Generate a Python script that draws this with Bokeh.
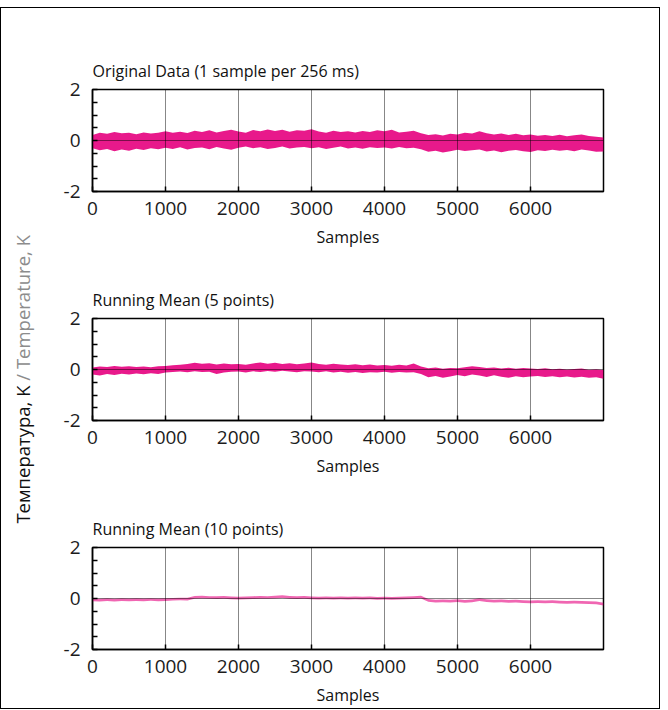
import math
from bokeh.plotting import figure
from bokeh.layouts import column, row
from bokeh.models import FixedTicker, Range1d
from bokeh.core.properties import value
from bokeh.embed import file_html
from bokeh.resources import INLINE

# ---------------- data ----------------
samples = list(range(0, 7001, 100))

titles = ["Original Data (1 sample per 256 ms)",
          "Running Mean (5 points)",
          "Running Mean (10 points)"]
x_label = "Samples"
y_label_ru = "Температура, K"
y_label_en = "\u00a0/ Temperature, K"

x_ticks = [0, 1000, 2000, 3000, 4000, 5000, 6000]
y_ticks = [-2, 0, 2]
y_tick_labels = {-2: "-2", 0: "0", 2: "2"}
y_minor = [-1.5, -1, -0.5, 0.5, 1, 1.5]

raw_hi = [0.22, 0.30, 0.26, 0.33, 0.28, 0.30, 0.25, 0.31, 0.27, 0.30,
          0.36, 0.30, 0.34, 0.29, 0.38, 0.33, 0.40, 0.31, 0.37, 0.42,
          0.35, 0.30, 0.41, 0.36, 0.43, 0.37, 0.42, 0.34, 0.40, 0.38,
          0.44, 0.35, 0.30, 0.38, 0.33, 0.36, 0.31, 0.37, 0.33, 0.40,
          0.36, 0.42, 0.31, 0.34, 0.38, 0.28, 0.22, 0.25, 0.20, 0.26,
          0.24, 0.30, 0.27, 0.36, 0.28, 0.24, 0.27, 0.22, 0.26, 0.21,
          0.24, 0.19, 0.22, 0.18, 0.23, 0.17, 0.21, 0.24, 0.18, 0.15, 0.12]
raw_lo = [-0.30, -0.38, -0.33, -0.42, -0.35, -0.40, -0.32, -0.37, -0.30, -0.34,
          -0.28, -0.33, -0.26, -0.35, -0.29, -0.27, -0.34, -0.25, -0.31, -0.36,
          -0.28, -0.24, -0.30, -0.26, -0.33, -0.29, -0.24, -0.31, -0.27, -0.25,
          -0.30, -0.26, -0.33, -0.28, -0.24, -0.31, -0.27, -0.32, -0.26, -0.29,
          -0.27, -0.31, -0.25, -0.30, -0.28, -0.34, -0.44, -0.40, -0.47, -0.42,
          -0.36, -0.41, -0.38, -0.35, -0.43, -0.39, -0.46, -0.40, -0.37, -0.42,
          -0.45, -0.38, -0.41, -0.36, -0.40, -0.37, -0.42, -0.35, -0.39, -0.44, -0.43]

mean5_hi = [0.08, 0.12, 0.10, 0.14, 0.11, 0.13, 0.10, 0.12, 0.09, 0.13,
            0.14, 0.17, 0.19, 0.22, 0.26, 0.23, 0.25, 0.20, 0.24, 0.21,
            0.22, 0.19, 0.24, 0.27, 0.23, 0.26, 0.22, 0.25, 0.21, 0.24,
            0.27, 0.22, 0.19, 0.23, 0.20, 0.18, 0.21, 0.17, 0.20, 0.16,
            0.18, 0.15, 0.19, 0.16, 0.24, 0.12, 0.05, 0.08, 0.03, 0.06,
            0.05, 0.09, 0.13, 0.10, 0.06, 0.08, 0.04, 0.07, 0.03, 0.06,
            0.04, 0.02, 0.05, 0.01, 0.03, 0.00, 0.02, 0.04, -0.01, 0.01, -0.02]
mean5_lo = [-0.20, -0.24, -0.18, -0.22, -0.17, -0.20, -0.16, -0.19, -0.15, -0.18,
            -0.12, -0.10, -0.08, -0.11, -0.07, -0.10, -0.09, -0.18, -0.12, -0.09,
            -0.08, -0.12, -0.07, -0.10, -0.06, -0.09, -0.05, -0.08, -0.11, -0.07,
            -0.08, -0.11, -0.07, -0.12, -0.09, -0.13, -0.10, -0.14, -0.11, -0.12,
            -0.09, -0.13, -0.10, -0.12, -0.11, -0.18, -0.30, -0.25, -0.32, -0.27,
            -0.22, -0.26, -0.20, -0.24, -0.29, -0.23, -0.28, -0.32, -0.26, -0.30,
            -0.27, -0.25, -0.29, -0.26, -0.30, -0.27, -0.31, -0.28, -0.32, -0.30, -0.36]

mean10_hi = [0.00, -0.01, 0.01, -0.01, 0.01, 0.00, 0.01, 0.00, 0.01, 0.00,
             0.01, 0.02, 0.03, 0.03, 0.10, 0.11, 0.09, 0.09, 0.10, 0.08,
             0.07, 0.08, 0.09, 0.10, 0.09, 0.11, 0.13, 0.10, 0.09, 0.10,
             0.08, 0.07, 0.08, 0.07, 0.08, 0.07, 0.08, 0.07, 0.08, 0.06,
             0.07, 0.06, 0.07, 0.08, 0.09, 0.11, -0.02, -0.05, -0.04, -0.05,
             -0.03, -0.06, -0.04, 0.01, -0.03, -0.05, -0.04, -0.06, -0.05, -0.07,
             -0.08, -0.07, -0.08, -0.07, -0.09, -0.10, -0.09, -0.10, -0.11, -0.12, -0.17]
mean10_lo = [-0.11, -0.12, -0.10, -0.12, -0.10, -0.11, -0.10, -0.11, -0.09, -0.11,
             -0.10, -0.08, -0.07, -0.08, -0.01, 0.00, -0.01, -0.02, -0.01, -0.03,
             -0.04, -0.03, -0.02, -0.01, -0.01, 0.00, 0.02, -0.01, -0.02, -0.01,
             -0.03, -0.04, -0.03, -0.04, -0.03, -0.04, -0.03, -0.04, -0.03, -0.05,
             -0.04, -0.05, -0.04, -0.03, -0.02, 0.00, -0.13, -0.16, -0.15, -0.16,
             -0.14, -0.17, -0.15, -0.10, -0.14, -0.16, -0.15, -0.17, -0.16, -0.18,
             -0.19, -0.18, -0.19, -0.18, -0.20, -0.21, -0.20, -0.21, -0.22, -0.23, -0.27]

# ---------------- style ----------------
FONT = "Open Sans"
PINK = "#e6007e"
TXT = "#111111"
LABEL_W = 40
FRAME_H = 102


def make_panel(title, hi, lo, border_top, border_bottom, alpha):
    p = figure(frame_width=511, frame_height=FRAME_H,
               x_range=Range1d(0, 7000), y_range=Range1d(-2, 2),
               output_backend="svg", toolbar_location=None,
               min_border_left=91 - LABEL_W, min_border_right=56,
               min_border_top=border_top, min_border_bottom=border_bottom,
               background_fill_color="white", border_fill_color="white")
    p.title.text = title
    p.title.text_font = FONT
    p.title.text_font_size = "16px"
    p.title.text_font_style = "normal"
    p.title.text_color = TXT
    p.title.align = "left"
    p.title.standoff = 15

    p.outline_line_color = "black"
    p.outline_line_width = 1.5
    p.outline_line_alpha = 1

    for ax in (p.xaxis[0], p.yaxis[0]):
        ax.axis_line_color = "black"
        ax.axis_line_width = 1.5
        ax.major_tick_line_color = "black"
        ax.major_tick_line_width = 1.5
        ax.major_tick_out = 0
        ax.major_tick_in = 5
        ax.major_label_text_font = FONT
        ax.major_label_text_font_size = "19px"
        ax.major_label_text_color = "#1c1c1c"

    xa = p.xaxis[0]
    xa.ticker = FixedTicker(ticks=x_ticks)
    xa.minor_tick_line_color = None
    xa.major_label_standoff = 10
    xa.axis_label = x_label
    xa.axis_label_text_font = FONT
    xa.axis_label_text_font_size = "16px"
    xa.axis_label_text_font_style = "normal"
    xa.axis_label_text_color = TXT
    xa.axis_label_standoff = 8

    ya = p.yaxis[0]
    ya.ticker = FixedTicker(ticks=y_ticks, minor_ticks=y_minor)
    ya.major_label_overrides = y_tick_labels
    ya.minor_tick_in = 5
    ya.minor_tick_out = 0
    ya.minor_tick_line_color = "black"
    ya.minor_tick_line_width = 1.5
    ya.major_label_standoff = 12

    # grid lines are semi-transparent and drawn over the data
    p.xgrid.ticker = FixedTicker(ticks=x_ticks[1:])
    p.ygrid.ticker = FixedTicker(ticks=[0])
    for g in (p.xgrid[0], p.ygrid[0]):
        g.level = "overlay"
        g.grid_line_color = "black"
        g.grid_line_alpha = 0.47
        g.grid_line_width = 1

    p.varea(x=samples, y1=lo, y2=hi, fill_color=PINK, fill_alpha=alpha)
    return p


p1 = make_panel(titles[0], raw_hi, raw_lo, 81, 67, 0.9)
p2 = make_panel(titles[1], mean5_hi, mean5_lo, 60, 67, 0.9)
p3 = make_panel(titles[2], mean10_hi, mean10_lo, 60, 50, 0.6)

TOTAL_H = (81 + FRAME_H + 67) + (60 + FRAME_H + 67) + (60 + FRAME_H + 50)

# narrow strip holding the shared, two-coloured y-axis title
lab = figure(width=LABEL_W, height=TOTAL_H,
             x_range=Range1d(0, LABEL_W), y_range=Range1d(0, TOTAL_H),
             output_backend="svg", toolbar_location=None,
             min_border=0, outline_line_color=None,
             background_fill_color="white", border_fill_color="white")
lab.axis.visible = False
lab.grid.visible = False
junction_y = TOTAL_H - 377
lab.text(x=[21], y=[junction_y], text=[y_label_ru], angle=math.pi / 2,
         text_align="right", text_baseline="middle",
         text_font=value(FONT), text_font_size="18.5px", text_color=TXT)
lab.text(x=[21], y=[junction_y], text=[y_label_en], angle=math.pi / 2,
         text_align="left", text_baseline="middle",
         text_font=value(FONT), text_font_size="18.5px", text_color="#8c8c8c")

layout = row(lab, column(p1, p2, p3, spacing=0), spacing=0,
             styles={"border": "1px solid black", "margin-top": "7px"})

open("out.html", "w").write(file_html(layout, INLINE))
